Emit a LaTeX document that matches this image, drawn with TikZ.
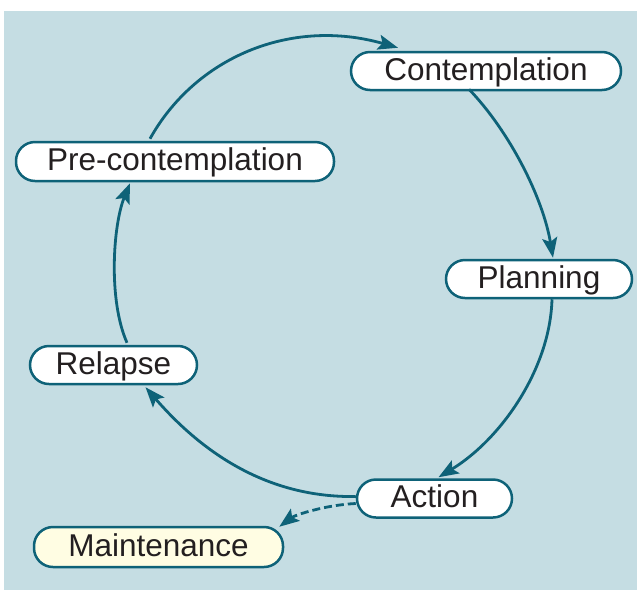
\documentclass[tikz,border=0pt]{standalone}
\usepackage{fontspec}
\setmainfont{Liberation Sans}
\usetikzlibrary{calc,arrows.meta}
\definecolor{bgblue}{HTML}{C5DDE3}
\definecolor{teal}{HTML}{0E6278}
\definecolor{cream}{HTML}{FFFDE3}
\definecolor{ink}{HTML}{231F20}
\begin{document}
\begin{tikzpicture}[x=1pt,y=-1pt,
  stage/.style={draw=teal, line width=2.5pt, fill=white, rounded corners=19pt,
    minimum height=38pt, inner sep=0pt, text=ink,
    font=\fontsize{31.5}{36}\selectfont, text height=22.6pt, text depth=4.6pt},
  flow/.style={draw=teal, line width=2.8pt,
    -{Stealth[length=20pt,width=15pt,inset=4pt]}},
  dashflow/.style={flow, dash pattern=on 8pt off 4pt}]
  \useasboundingbox (0,0) rectangle (637,590);
  \fill[bgblue] (4,11) rectangle (637,590);

  % stages of the cycle
  \node[stage, minimum width=270pt] (con) at (486,71) {Contemplation};
  \node[stage, minimum width=318pt, minimum height=39pt] (pre) at (175,161.5) {Pre-contemplation};
  \node[stage, minimum width=186pt] (pla) at (539,279) {Planning};
  \node[stage, minimum width=167pt] (rel) at (113.5,365) {Relapse};
  \node[stage, minimum width=155pt] (act) at (434.5,498.5) {Action};
  \node[stage, minimum width=249pt, minimum height=40pt, fill=cream] (mai) at (158.5,547) {Maintenance};

  % transitions
  \draw[flow] ($(pre.north)+(-25,-2)$) .. controls (195,58) and (290,17) .. ($(con.north)+(-88,-3)$);
  \draw[flow] ($(con.south)+(-17,-2)$) .. controls (510,132) and (543,198) .. ($(pla.north)+(14,-1)$);
  \draw[flow] ($(pla.south)+(13,0)$) .. controls (550,370) and (500,440) .. ($(act.north)+(4,-1)$);
  \draw[flow] ($(act.west)+(0,-2)$) .. controls (265,498) and (200,450) .. ($(rel.south)+(32,2)$);
  \draw[flow] ($(rel.north)+(13.5,-2)$) .. controls (108,300) and (113,225) .. ($(pre.south)+(-45,1)$);
  \draw[dashflow] ($(act.west)+(0,5)$) .. controls (325,505) and (295,515) .. ($(mai.north east)+(-5,1)$);
\end{tikzpicture}
\end{document}
